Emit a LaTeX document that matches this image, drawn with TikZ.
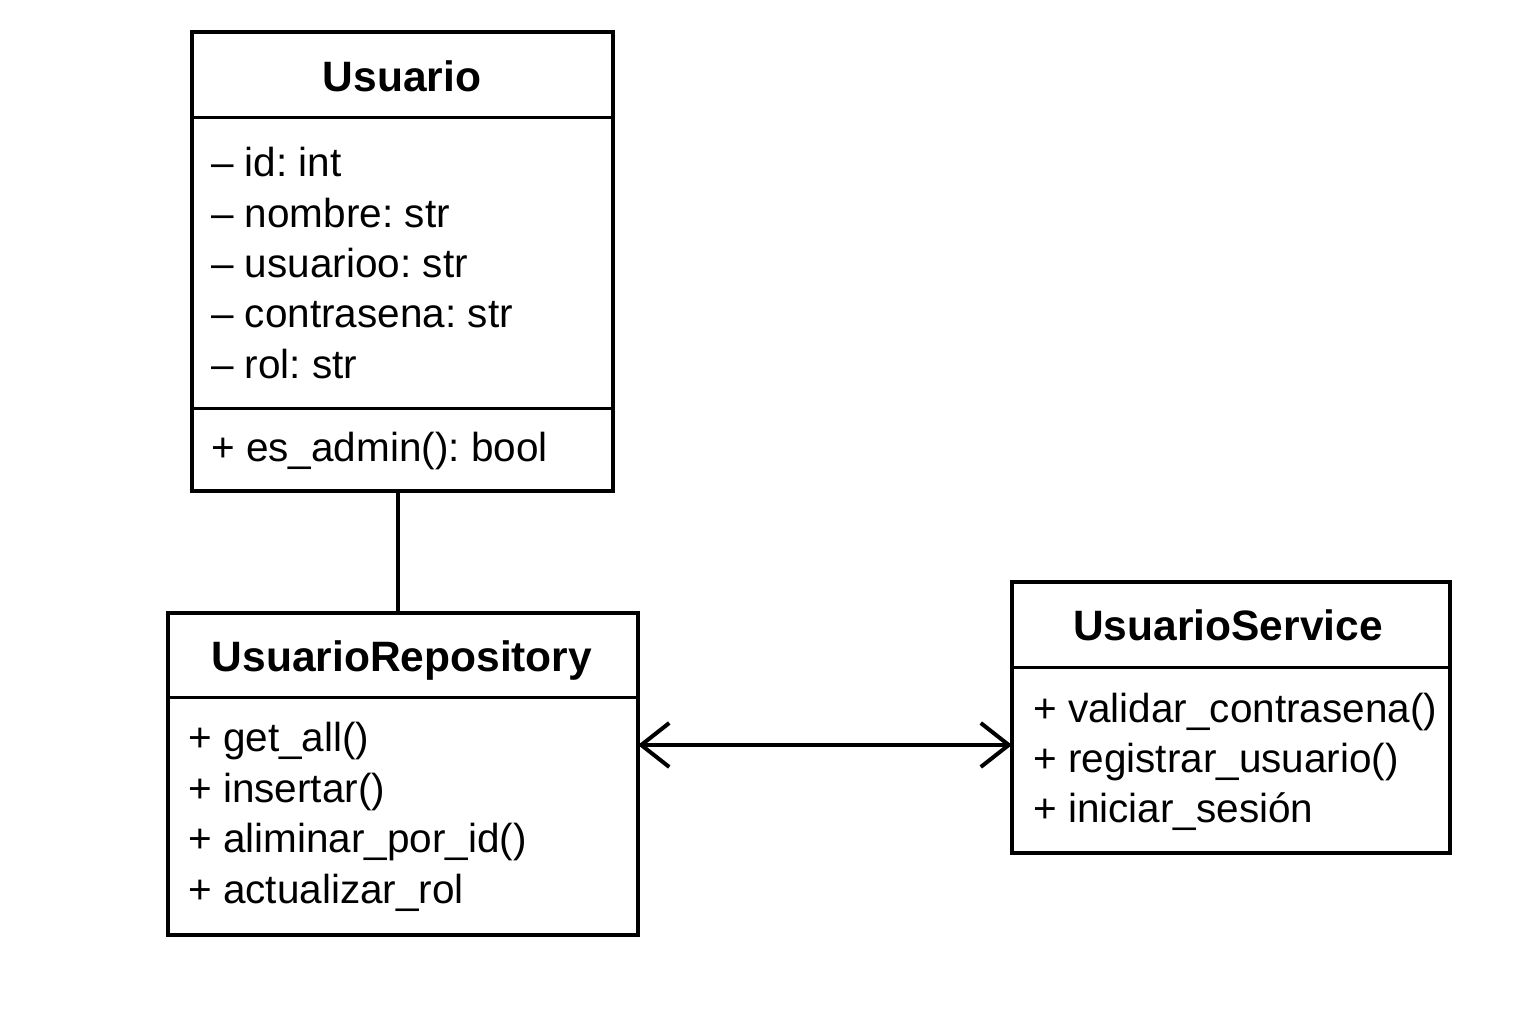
\documentclass[tikz,border=0pt]{standalone}
\usepackage{fontspec}
\setmainfont{Liberation Sans}
\usetikzlibrary{arrows.meta}
\frenchspacing
\tikzset{
  classbox/.style={draw, line width=4pt, rectangle, inner sep=0pt, outer sep=0pt, anchor=north west},
  divider/.style={line width=3pt},
  conn/.style={line width=4pt},
  titletext/.style={font=\fontsize{42.5}{50}\selectfont\bfseries, anchor=base, inner sep=0pt},
  membertext/.style={font=\fontsize{40.5}{50}\selectfont, anchor=base west, inner sep=0pt},
  barbs/.style={conn, {Straight Barb[length=28pt,width=44pt,line width=4pt]}-{Straight Barb[length=28pt,width=44pt,line width=4pt]}}
}
\begin{document}
\begin{tikzpicture}[x=1pt,y=-1pt]
\useasboundingbox (0,0) rectangle (1536,1024);
\fill[white] (0,0) rectangle (1536,1024);

% ---- Usuario ----
\node[classbox, minimum width=421pt, minimum height=459pt] (usuario) at (192,32) {};
\draw[divider] (192,118) -- (613,118);
\draw[divider] (192,408) -- (613,408);
\node[titletext] (usuario-t) at (402,91.5) {Usuario};
\node[membertext] (ua1) at (211,177) {– id: int};
\node[membertext] (ua2) at (211,227.3) {– nombre: str};
\node[membertext] (ua3) at (211,277.6) {– usuarioo: str};
\node[membertext] (ua4) at (211,327.9) {– contrasena: str};
\node[membertext] (ua5) at (211,378.2) {– rol: str};
\node[membertext] (um1) at (211,461.5) {+ es\_admin(): bool};

% ---- UsuarioRepository ----
\node[classbox, minimum width=470pt, minimum height=322pt] (repo) at (168,613) {};
\draw[divider] (168,697) -- (638,697);
\node[titletext] (repo-t) at (402,671.5) {UsuarioRepository};
\node[membertext] (rm1) at (188,751.5) {+ get\_all()};
\node[membertext] (rm2) at (188,802) {+ insertar()};
\node[membertext] (rm3) at (188,852.5) {+ aliminar\_por\_id()};
\node[membertext] (rm4) at (188,903) {+ actualizar\_rol};

% ---- UsuarioService ----
\node[classbox, minimum width=438pt, minimum height=271pt] (service) at (1012,582) {};
\draw[divider] (1012,667) -- (1450,667);
\node[titletext] (service-t) at (1228,640.5) {UsuarioService};
\node[membertext] (sm1) at (1033,722.5) {+ validar\_contrasena()};
\node[membertext] (sm2) at (1033,772.5) {+ registrar\_usuario()};
\node[membertext] (sm3) at (1033,822.5) {+ iniciar\_sesión};

% ---- connectors ----
\coordinate (c-top) at (398,491);
\coordinate (c-bot) at (398,613);
\draw[conn] (c-top) -- (c-bot);
\coordinate (a-left) at (repo.east |- 0,745);
\coordinate (a-right) at (service.west |- 0,745);
\draw[barbs] (a-left) -- (a-right);
\end{tikzpicture}
\end{document}
